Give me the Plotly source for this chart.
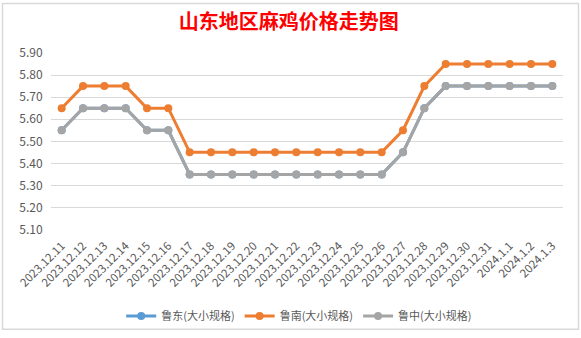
import plotly.graph_objects as go

dates = ["2023.12.11", "2023.12.12", "2023.12.13", "2023.12.14", "2023.12.15", "2023.12.16",
         "2023.12.17", "2023.12.18", "2023.12.19", "2023.12.20", "2023.12.21", "2023.12.22",
         "2023.12.23", "2023.12.24", "2023.12.25", "2023.12.26", "2023.12.27", "2023.12.28",
         "2023.12.29", "2023.12.30", "2023.12.31", "2024.1.1", "2024.1.2", "2024.1.3"]

ludong = [5.55, 5.65, 5.65, 5.65, 5.55, 5.55, 5.35, 5.35, 5.35, 5.35, 5.35, 5.35,
          5.35, 5.35, 5.35, 5.35, 5.45, 5.65, 5.75, 5.75, 5.75, 5.75, 5.75, 5.75]
lunan = [5.65, 5.75, 5.75, 5.75, 5.65, 5.65, 5.45, 5.45, 5.45, 5.45, 5.45, 5.45,
         5.45, 5.45, 5.45, 5.45, 5.55, 5.75, 5.85, 5.85, 5.85, 5.85, 5.85, 5.85]
luzhong = [5.55, 5.65, 5.65, 5.65, 5.55, 5.55, 5.35, 5.35, 5.35, 5.35, 5.35, 5.35,
           5.35, 5.35, 5.35, 5.35, 5.45, 5.65, 5.75, 5.75, 5.75, 5.75, 5.75, 5.75]

series = [("鲁东(大小规格)", ludong, "#5b9bd5"),
          ("鲁南(大小规格)", lunan, "#ed7d31"),
          ("鲁中(大小规格)", luzhong, "#a5a5a5")]

W, H = 581, 338
L, R, T, B = 51, 18, 53, 105
FONT = "Noto Sans CJK SC"

fig = go.Figure()
for name, vals, col in series:
    fig.add_trace(go.Scatter(x=dates, y=vals, name=name, mode="lines+markers",
                             line=dict(color=col, width=3),
                             marker=dict(color=col, size=8)))

pw, ph = W - L - R, H - T - B
def px_x(x):
    return (x - L) / pw
def px_y(y):
    return (H - B - y) / ph

fig.add_shape(type="rect", xref="paper", yref="paper",
              x0=px_x(2.5), x1=px_x(578.5), y0=px_y(334.5), y1=px_y(2.5),
              line=dict(color="#d9d9d9", width=1.5), layer="below")

fig.update_layout(
    width=W, height=H,
    margin=dict(l=L, r=R, t=T, b=B),
    paper_bgcolor="white", plot_bgcolor="white",
    font=dict(family=FONT, color="#595959", size=12),
    title=dict(text="山东地区麻鸡价格走势图", x=0.497, xref="container", xanchor="center",
               y=1 - 22 / H, yref="container", yanchor="middle",
               font=dict(family=FONT, size=20, color="#ff0000", weight="bold")),
    showlegend=True,
    legend=dict(orientation="h", x=0.515, xref="container", xanchor="center",
                y=1 - 316 / H, yref="container", yanchor="middle",
                font=dict(size=11, color="#595959"), itemwidth=30,
                bgcolor="rgba(0,0,0,0)"),
    xaxis=dict(type="category", tickangle=-45, tickfont=dict(size=11.5),
               showgrid=False, showline=False, ticks="outside", ticklen=4,
               tickcolor="rgba(0,0,0,0)", range=[-0.5, len(dates) - 0.5]),
    yaxis=dict(range=[5.1, 5.9], dtick=0.1, tickformat=".2f", tickfont=dict(size=12),
               showgrid=True, gridcolor="#d9d9d9", gridwidth=1, zeroline=False,
               ticks="outside", ticklen=5, tickcolor="rgba(0,0,0,0)"),
)

fig.write_html("out.html")
